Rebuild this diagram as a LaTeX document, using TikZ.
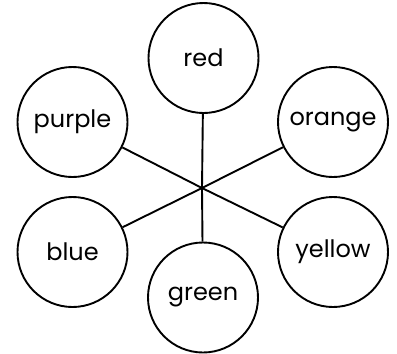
\documentclass[tikz,border=0pt]{standalone}
\usepackage{fontspec}
\setmainfont{Poppins}
\usetikzlibrary{positioning}

\tikzset{
  colour/.style = {draw, circle, line width=1.9pt, minimum size=110pt, inner sep=0pt, font=\fontsize{24}{28}\selectfont},
  spoke/.style  = {line width=1.9pt}
}

\begin{document}
\begin{tikzpicture}[x=1pt,y=-1pt]
    \useasboundingbox (0,0) rectangle (397,354);

    % centre where the spokes meet
    \coordinate (hub) at (202,188);

    % colour circles
    \node[colour] (red)    at (203.5,58)  {red};
    \node[colour] (purple) at (72.5,122)  {purple};
    \node[colour] (orange) at (333,122)   {orange};
    \node[colour] (blue)   at (72.5,252)  {blue};
    \node[colour] (yellow) at (333,252)   {yellow};
    \node[colour] (green)  at (203,297.5) {green};

    % spokes
    \draw[spoke] (hub) -- (red);
    \draw[spoke] (hub) -- (purple);
    \draw[spoke] (hub) -- (orange);
    \draw[spoke] (hub) -- (blue);
    \draw[spoke] (hub) -- (yellow);
    \draw[spoke] (hub) -- (green);
\end{tikzpicture}
\end{document}
